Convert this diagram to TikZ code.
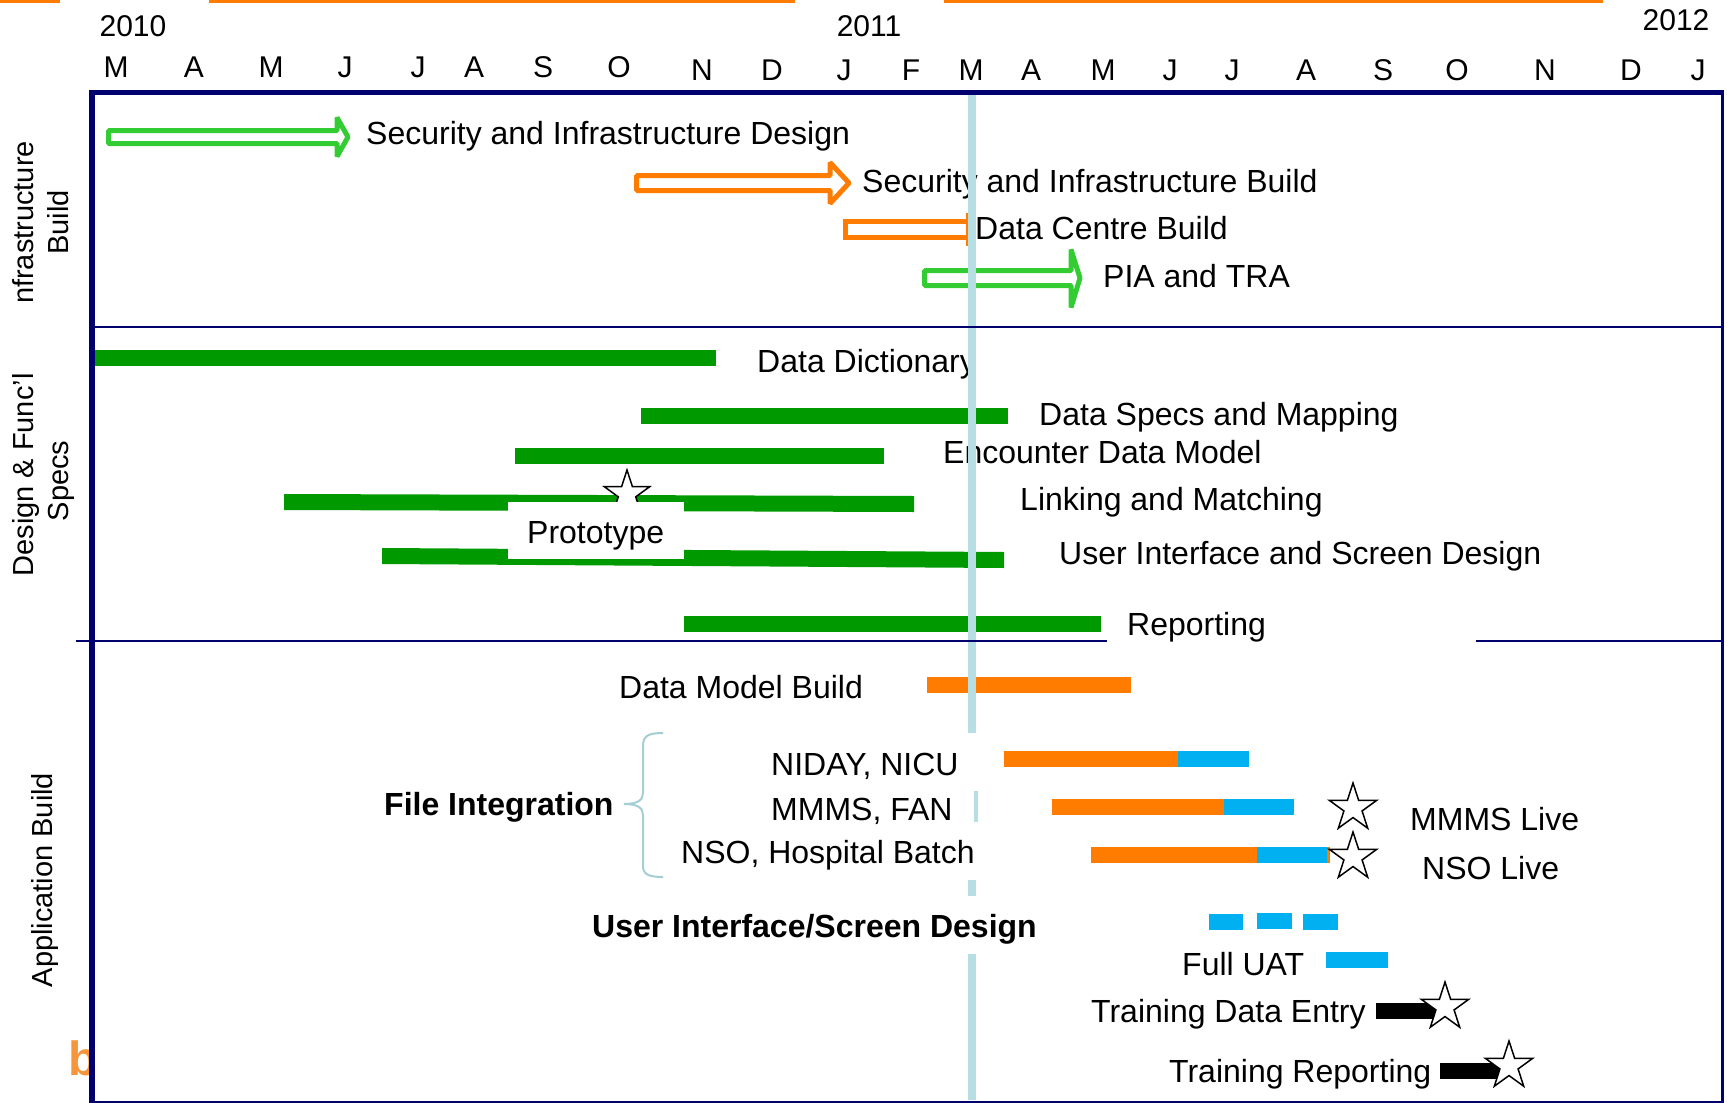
\documentclass[tikz,border=0pt]{standalone}
\usepackage{fontspec}
\setmainfont{Liberation Sans}
\usetikzlibrary{shapes.geometric}
\definecolor{navy}{RGB}{0,0,110}
\definecolor{lgreen}{RGB}{51,204,51}
\definecolor{dgreen}{RGB}{0,153,0}
\definecolor{orng}{RGB}{255,124,0}
\definecolor{borng}{RGB}{245,150,60}
\definecolor{sky}{RGB}{0,176,240}
\definecolor{today}{RGB}{183,222,226}
\definecolor{bracec}{RGB}{165,205,212}
\begin{document}
\begin{tikzpicture}[x=1pt,y=-1pt,
  lbl/.style={font=\fontsize{32}{38}\selectfont, anchor=base west, inner sep=0pt},
  blbl/.style={font=\fontsize{32}{38}\selectfont\bfseries, anchor=base west, inner sep=0pt},
  mon/.style={font=\fontsize{30}{36}\selectfont, anchor=base, inner sep=0pt},
  side/.style={font=\fontsize{29}{35}\selectfont, rotate=90, anchor=base, inner sep=0pt},
  starmark/.style={star, star points=5, star point ratio=2.618, minimum size=50pt, inner sep=0pt, draw=black, line width=1.5pt, fill=white},
  harrow/.style={draw=#1, line width=5pt, fill=white, line join=bevel},
  todayline/.style={draw=today, line width=8pt},
]
\useasboundingbox (0,0) rectangle (1727,1103);

% top orange rules
\fill[orng] (0,0) rectangle (60,3);
\fill[orng] (209,0) rectangle (795,3);
\fill[orng] (944,0) rectangle (1603,3);

% years
\node[mon] (y2010) at (133,36) {2010};
\node[mon] (y2011) at (869,36) {2011};
\node[mon] (y2012) at (1676,30) {2012};

% months
\foreach \x/\m [count=\i] in {116/M,194/A,271/M,345/J,418/J,474/A,543/S,619/O}
  \node[mon] (ma\i) at (\x,77) {\m};
\foreach \x/\m [count=\i] in {702/N,772/D,844/J,911/F,971/M,1031/A,1103/M,1170/J,1232/J,1306/A,1383/S,1457/O,1545/N,1631/D,1698/J}
  \node[mon] (mb\i) at (\x,80) {\m};

% orange b (cut by frame)
\begin{scope}
\clip (0,1000) rectangle (91,1103);
\node[font=\fontsize{48}{56}\selectfont\bfseries, text=borng, anchor=base west, inner sep=0pt] (bmark) at (68.5,1075) {b};
\end{scope}

% side labels
\node[side] (lab1a) at (33,222.5) {nfrastructure};
\node[side] (lab1b) at (68,222.5) {Build};
\node[side] (lab2a) at (33.5,475) {Design \& Func’l};
\node[side] (lab2b) at (68.5,481) {Specs};
\node[side] (lab3) at (52,880) {Application Build};

% ---- section 1 ----
\draw[harrow=lgreen] (108.5,130.5) -- (337,130.5) -- (337,117.5) -- (348,137) -- (337,156.5) -- (337,143.5) -- (108.5,143.5) -- cycle;
\draw[harrow=orng] (636.5,175.5) -- (830,175.5) -- (830,162.5) -- (849,183) -- (830,203.5) -- (830,190.5) -- (636.5,190.5) -- cycle;
\draw[orng, line width=5pt] (967,221.7) -- (845.5,221.7) -- (845.5,237.7) -- (967,237.7);
\draw[orng, line width=3pt] (967,213) -- (967,246);
\draw[harrow=lgreen] (924.5,270.5) -- (1071,270.5) -- (1071,249.5) -- (1080,278) -- (1071,307.5) -- (1071,285.5) -- (924.5,285.5) -- cycle;

\node[lbl] (t1) at (366,144) {Security and Infrastructure Design};
\node[lbl] (t2) at (862,192) {Security and Infrastructure Build};
\node[lbl] (t3) at (975,239) {Data Centre Build};
\node[lbl] (t4) at (1103,287) {PIA and TRA};

% ---- section 2 ----
\fill[dgreen] (92,350) rectangle (716,366);
\fill[dgreen] (641,408) rectangle (1008,424);
\fill[dgreen] (515,448) rectangle (884,464);
\fill[dgreen] (284,494) -- (914,496) -- (914,512) -- (284,510) -- cycle;
\fill[dgreen] (382,548) -- (1004,552) -- (1004,568) -- (382,564) -- cycle;
\fill[dgreen] (684,616) rectangle (1101,632);

\node[starmark, minimum size=48pt] (sproto) at (627,494) {};
\node[fill=white, inner sep=0pt, minimum width=176pt, minimum height=57pt, anchor=north west] (protobox) at (508,502) {};
\node[lbl] (tproto) at (527,543) {Prototype};

\node[lbl] (t5) at (757,372) {Data Dictionary};
\node[lbl] (t6) at (1039,425) {Data Specs and Mapping};
\node[lbl] (t7) at (943,463) {Encounter Data Model};
\node[lbl] (t8) at (1020,510) {Linking and Matching};
\node[lbl] (t9) at (1059,564) {User Interface and Screen Design};
\node[lbl] (t10) at (1127,635) {Reporting};

% ---- section 3 ----
\fill[orng] (927,677) rectangle (1131,693);
\fill[orng] (1004,751) rectangle (1178,767);
\fill[sky] (1178,751) rectangle (1249,767);
\fill[orng] (1052,798.5) rectangle (1224,814.5);
\fill[sky] (1224,798.5) rectangle (1294,814.5);
\fill[orng] (1091,847) rectangle (1330,863);
\fill[sky] (1257,847) rectangle (1327,863);
\fill[sky] (1209,914) rectangle (1243,930);
\fill[sky] (1257,913) rectangle (1292,929);
\fill[sky] (1303,914) rectangle (1338,930);
\fill[sky] (1326,952) rectangle (1388,968);
\fill[black] (1376,1003) rectangle (1437,1019);
\fill[black] (1440,1063) rectangle (1499,1079);

\node[starmark] (smmms) at (1353,808) {};
\node[starmark] (snso) at (1353,857) {};
\node[starmark] (stde) at (1445,1007) {};
\node[starmark] (str) at (1509,1066) {};

\node[lbl] (t11) at (619,698) {Data Model Build};
\node[lbl] (t12) at (771,775) {NIDAY, NICU};
\node[lbl] (t13) at (771,820) {MMMS, FAN};
\node[lbl] (t14) at (681,863) {NSO, Hospital Batch};
\node[blbl] (t15) at (384,815) {File Integration};
\node[blbl] (t16) at (592,937) {User Interface/Screen Design};
\node[lbl] (t17) at (1410,830) {MMMS Live};
\node[lbl] (t18) at (1422,879) {NSO Live};
\node[lbl] (t19) at (1182,975) {Full UAT};
\node[lbl] (t20) at (1091,1022) {Training Data Entry};
\node[lbl] (t21) at (1169,1082) {Training Reporting};

% brace
\draw[bracec, line width=2pt] (663,733) .. controls (648,733) and (643,736) .. (643,746) -- (643,793)
  .. controls (643,800) and (638,804) .. (624,804) .. controls (638,804) and (643,808) .. (643,815)
  -- (643,866) .. controls (643,874) and (648,877) .. (663,877);

% today line
\draw[todayline] (972,95) -- (972,733);
\draw[draw=today, line width=3.5pt] (975.8,791) -- (975.8,822);
\draw[todayline] (972,880) -- (972,896);
\draw[todayline] (972,954) -- (972,1100);

% frame and dividers
\fill[navy] (89,89.5) rectangle (1724,95);
\fill[navy] (89,89.5) rectangle (94.5,1103);
\fill[navy] (1720.5,89.5) rectangle (1723.5,1103);
\fill[navy] (89,1100.5) rectangle (1724,1103);
\fill[navy] (94,325.8) rectangle (1721,328.2);
\fill[navy] (76,639.8) rectangle (1107,642.2);
\fill[navy] (1476,639.8) rectangle (1721,642.2);
\end{tikzpicture}
\end{document}
